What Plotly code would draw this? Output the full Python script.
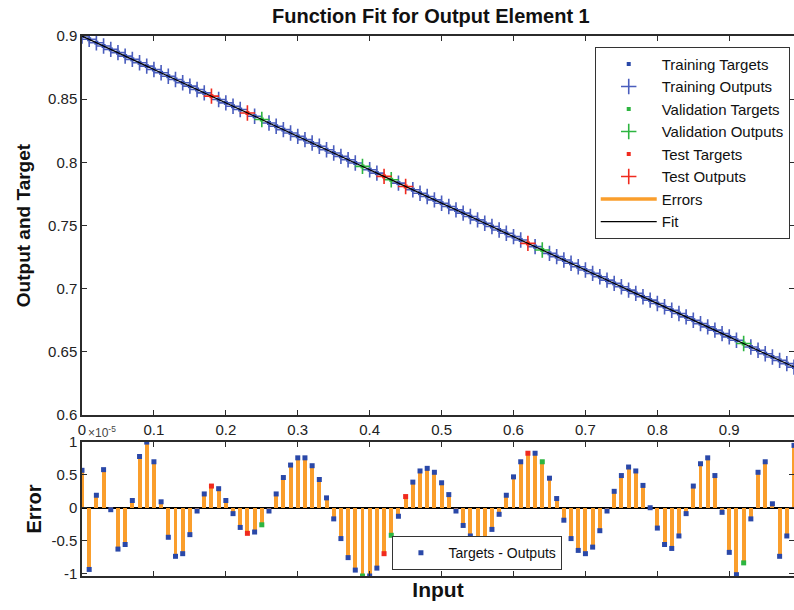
import plotly.graph_objects as go

# ---------------- data ----------------
inputs = [0.00, 0.01, 0.02, 0.03, 0.04, 0.05, 0.06, 0.07, 0.08, 0.09,
          0.10, 0.11, 0.12, 0.13, 0.14, 0.15, 0.16, 0.17, 0.18, 0.19,
          0.20, 0.21, 0.22, 0.23, 0.24, 0.25, 0.26, 0.27, 0.28, 0.29,
          0.30, 0.31, 0.32, 0.33, 0.34, 0.35, 0.36, 0.37, 0.38, 0.39,
          0.40, 0.41, 0.42, 0.43, 0.44, 0.45, 0.46, 0.47, 0.48, 0.49,
          0.50, 0.51, 0.52, 0.53, 0.54, 0.55, 0.56, 0.57, 0.58, 0.59,
          0.60, 0.61, 0.62, 0.63, 0.64, 0.65, 0.66, 0.67, 0.68, 0.69,
          0.70, 0.71, 0.72, 0.73, 0.74, 0.75, 0.76, 0.77, 0.78, 0.79,
          0.80, 0.81, 0.82, 0.83, 0.84, 0.85, 0.86, 0.87, 0.88, 0.89,
          0.90, 0.91, 0.92, 0.93, 0.94, 0.95, 0.96, 0.97, 0.98, 0.99]

targets = [0.9000, 0.8974, 0.8947, 0.8921, 0.8894, 0.8868, 0.8841, 0.8815, 0.8788, 0.8762,
           0.8735, 0.8709, 0.8682, 0.8656, 0.8630, 0.8603, 0.8577, 0.8550, 0.8524, 0.8497,
           0.8471, 0.8444, 0.8418, 0.8391, 0.8365, 0.8339, 0.8312, 0.8286, 0.8259, 0.8233,
           0.8206, 0.8180, 0.8153, 0.8127, 0.8100, 0.8074, 0.8047, 0.8021, 0.7995, 0.7968,
           0.7942, 0.7915, 0.7889, 0.7862, 0.7836, 0.7809, 0.7783, 0.7756, 0.7730, 0.7703,
           0.7677, 0.7651, 0.7624, 0.7598, 0.7571, 0.7545, 0.7518, 0.7492, 0.7465, 0.7439,
           0.7412, 0.7386, 0.7359, 0.7333, 0.7307, 0.7280, 0.7254, 0.7227, 0.7201, 0.7174,
           0.7148, 0.7121, 0.7095, 0.7068, 0.7042, 0.7016, 0.6989, 0.6963, 0.6936, 0.6910,
           0.6883, 0.6857, 0.6830, 0.6804, 0.6777, 0.6751, 0.6724, 0.6698, 0.6672, 0.6645,
           0.6619, 0.6592, 0.6566, 0.6539, 0.6513, 0.6486, 0.6460, 0.6433, 0.6407, 0.6380]

# errors (targets - outputs) in units of 1e-5
errors_e5 = [0.57, -0.94, 0.19, 0.58, -0.03, -0.63, -0.56, 0.11, 0.78, 1.00,
             0.70, 0.09, -0.45, -0.74, -0.70, -0.41, -0.05, 0.21, 0.33, 0.29,
             0.11, -0.09, -0.30, -0.39, -0.37, -0.26, -0.05, 0.21, 0.46, 0.65,
             0.76, 0.76, 0.64, 0.43, 0.15, -0.17, -0.47, -0.76, -0.95, -1.04,
             -1.04, -0.92, -0.70, -0.42, -0.13, 0.17, 0.39, 0.56, 0.60, 0.54,
             0.38, 0.20, -0.05, -0.27, -0.43, -0.51, -0.47, -0.33, -0.10, 0.19,
             0.47, 0.70, 0.83, 0.83, 0.70, 0.45, 0.14, -0.19, -0.47, -0.65,
             -0.70, -0.60, -0.35, -0.05, 0.25, 0.49, 0.62, 0.56, 0.34, 0.00,
             -0.31, -0.56, -0.62, -0.43, -0.09, 0.33, 0.67, 0.76, 0.49, -0.07,
             -0.68, -1.02, -0.84, -0.17, 0.54, 0.70, 0.06, -0.74, -0.43, 0.95]

validation_idx = [25, 39, 43, 64, 92]
test_idx = [18, 23, 42, 45, 62]

x_tick_vals = [0, 0.1, 0.2, 0.3, 0.4, 0.5, 0.6, 0.7, 0.8, 0.9]
x_tick_text = ["0", "0.1", "0.2", "0.3", "0.4", "0.5", "0.6", "0.7", "0.8", "0.9"]
y_tick_vals = [0.6, 0.65, 0.7, 0.75, 0.8, 0.85, 0.9]
y_tick_text = ["0.6", "0.65", "0.7", "0.75", "0.8", "0.85", "0.9"]
e_tick_vals = [-1, -0.5, 0, 0.5, 1]
e_tick_text = ["-1", "-0.5", "0", "0.5", "1"]

# ---------------- derived ----------------
outputs = [t - e * 1e-5 for t, e in zip(targets, errors_e5)]
n = len(inputs)
training_idx = [i for i in range(n) if i not in validation_idx and i not in test_idx]


def pick(arr, idx):
    return [arr[i] for i in idx]


BLUE_T = "#2A48A8"
BLUE_O = "#4A5DBD"
GREEN = "#2DB540"
RED = "#F02A1E"
ORANGE = "#FA9E2C"
FONT = "Liberation Sans, Arial, sans-serif"

fig = go.Figure()

groups = [
    ("Training", training_idx, BLUE_T, BLUE_O),
    ("Validation", validation_idx, GREEN, GREEN),
    ("Test", test_idx, RED, RED),
]

# top panel
for name, idx, ct, co in groups:
    fig.add_trace(go.Scatter(
        x=pick(inputs, idx), y=pick(targets, idx), mode="markers",
        marker=dict(symbol="square", size=4, color=ct),
        name=f"{name} Targets", xaxis="x", yaxis="y", legend="legend"))
    fig.add_trace(go.Scatter(
        x=pick(inputs, idx), y=pick(outputs, idx), mode="markers",
        marker=dict(symbol="cross-thin", size=11, line=dict(color=co, width=1.6)),
        name=f"{name} Outputs", xaxis="x", yaxis="y", legend="legend"))

err_x, err_y = [], []
for xi, t, o in zip(inputs, targets, outputs):
    err_x += [xi, xi, None]
    err_y += [t, o, None]
fig.add_trace(go.Scatter(
    x=err_x, y=err_y, mode="lines", line=dict(color=ORANGE, width=3.5),
    name="Errors", xaxis="x", yaxis="y", legend="legend"))
fig.add_trace(go.Scatter(
    x=inputs, y=outputs, mode="lines", line=dict(color="black", width=1.2),
    name="Fit", xaxis="x", yaxis="y", legend="legend"))

# bottom panel
fig.add_trace(go.Bar(
    x=inputs, y=errors_e5, width=0.0055, marker=dict(color=ORANGE, line=dict(width=0)),
    showlegend=False, xaxis="x2", yaxis="y2"))
for k, (name, idx, ct, co) in enumerate(groups):
    fig.add_trace(go.Scatter(
        x=pick(inputs, idx), y=pick(errors_e5, idx), mode="markers",
        marker=dict(symbol="square", size=5, color=ct),
        name="Targets - Outputs", showlegend=(k == 0),
        xaxis="x2", yaxis="y2", legend="legend2"))

axis_common = dict(
    showline=True, linecolor="#2b2b2b", linewidth=1.5, mirror="ticks",
    ticks="inside", ticklen=5, tickwidth=1.2, tickcolor="#2b2b2b",
    showgrid=False, automargin=False,
    tickfont=dict(family=FONT, size=15, color="#222"),
)

fig.update_layout(
    width=794, height=610,
    margin=dict(l=82, r=0, t=36, b=34, autoexpand=False),
    paper_bgcolor="white", plot_bgcolor="white",
    bargap=0,
    title=dict(text="<b>Function Fit for Output Element 1</b>",
               x=0.49, xref="paper", y=1 - 16 / 610, yanchor="middle",
               font=dict(family=FONT, size=20, color="#111")),
    xaxis=dict(domain=[0, 1], range=[0, 0.99], tickvals=x_tick_vals, ticktext=x_tick_text,
               anchor="y", zeroline=False, **axis_common),
    yaxis=dict(domain=[0.298, 1], range=[0.6, 0.9], tickvals=y_tick_vals, ticktext=y_tick_text,
               anchor="x", zeroline=False,
               title=dict(text="<b>Output and Target</b>", standoff=12,
                          font=dict(family=FONT, size=19, color="#111")),
               **axis_common),
    xaxis2=dict(domain=[0, 1], range=[0, 0.99], tickvals=x_tick_vals, showticklabels=False,
                anchor="y2", zeroline=False,
                title=dict(text="<b>Input</b>", standoff=6,
                           font=dict(family=FONT, size=21, color="#111")),
                **axis_common),
    yaxis2=dict(domain=[0, 0.248], range=[-1.04, 1.0], tickvals=e_tick_vals, ticktext=e_tick_text,
                anchor="x2",
                title=dict(text="<b>Error</b>", standoff=4,
                           font=dict(family=FONT, size=20, color="#111")),
                zeroline=True, zerolinecolor="black", zerolinewidth=1.5,
                **axis_common),
    legend=dict(x=0.994, y=0.98, xanchor="right", yanchor="top",
                bgcolor="white", bordercolor="#333", borderwidth=1,
                font=dict(family=FONT, size=15, color="#111"),
                itemwidth=56, tracegroupgap=0),
    legend2=dict(x=0.436, y=0.011, xanchor="left", yanchor="bottom",
                 bgcolor="white", bordercolor="#333", borderwidth=1,
                 font=dict(family=FONT, size=14, color="#111"),
                 itemwidth=45),
    annotations=[dict(text="×10<sup>-5</sup>", x=0.006, y=0.267, xref="paper", yref="paper",
                      xanchor="left", yanchor="middle", showarrow=False,
                      font=dict(family=FONT, size=12, color="#444"))],
)

fig.write_html("out.html", config={"displayModeBar": False},
               post_script="document.body.style.margin='0';")
